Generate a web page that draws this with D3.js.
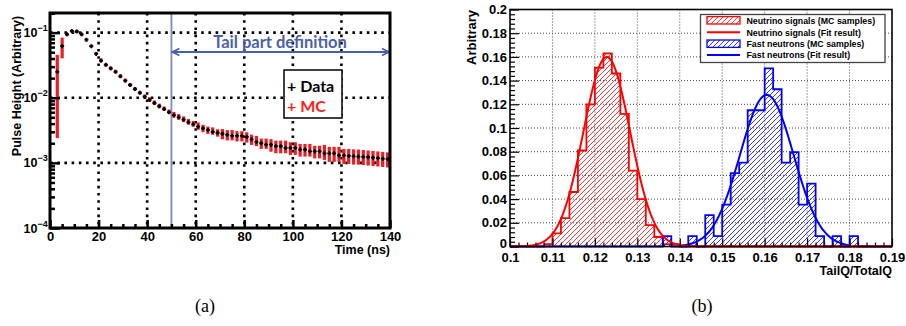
<!DOCTYPE html>
<html>
<head>
<meta charset="utf-8">
<script src="https://cdn.jsdelivr.net/npm/d3@7"></script>
<style>
  body { margin: 0; background: #fff; }
  svg { display: block; }
</style>
</head>
<body>
<svg id="fig" width="906" height="326"></svg>
<script>
// ---------- Panel (a): averaged pulse shape ----------
const pulseTimes = [3,5,7,9,11,13,15,17,19,21,23,25,27,29,31,33,35,37,39,41,43,45,47,49,51,53,55,57,59,61,63,65,67,69,71,73,75,77,79,81,83,85,87,89,91,93,95,97,99,101,103,105,107,109,111,113,115,117,119,121,123,125,127,129,131,133,135,137,139];
const pulseData = [0.025,0.062,0.094,0.106,0.104,0.094,0.078,0.062,0.047,0.037,0.032,0.0282,0.025,0.0213,0.0183,0.0157,0.0136,0.0119,0.0104,0.0093,0.0083,0.0074,0.0067,0.0060,0.0054,0.0050,0.0046,0.0042,0.0039,0.0036,0.0034,0.0032,0.0030,0.0029,0.0028,0.0027,0.0026,0.0026,0.0026,0.0025,0.0023,0.0021,0.0020,0.0019,0.0019,0.0018,0.0018,0.0017,0.0017,0.0017,0.0016,0.0016,0.0015,0.0015,0.0015,0.0014,0.0014,0.0014,0.0013,0.0013,0.00128,0.00126,0.00125,0.00124,0.00122,0.0012,0.00118,0.00116,0.00114];
const pulseMC = [0.024,0.062,0.093,0.105,0.104,0.093,0.077,0.062,0.048,0.038,0.032,0.0284,0.0252,0.0215,0.0185,0.0158,0.0137,0.0120,0.0105,0.0094,0.0084,0.0075,0.0068,0.0061,0.0055,0.0051,0.0047,0.0043,0.0040,0.0037,0.0034,0.0032,0.0031,0.0029,0.0028,0.0027,0.0027,0.0026,0.0026,0.0025,0.0023,0.0022,0.0020,0.0020,0.0019,0.0018,0.0018,0.0018,0.0017,0.0017,0.0016,0.0016,0.0016,0.0015,0.0015,0.0015,0.0014,0.0014,0.0014,0.0013,0.0013,0.00128,0.00127,0.00125,0.00123,0.00121,0.00119,0.00117,0.00115];
// relative half-width of the MC error bars
const pulseMCErr = [0.9,0.35,0.05,0.05,0.05,0.05,0.05,0.05,0.05,0.06,0.06,0.06,0.06,0.06,0.06,0.06,0.06,0.06,0.06,0.08,0.08,0.08,0.08,0.08,0.10,0.10,0.10,0.10,0.10,0.13,0.13,0.13,0.13,0.13,0.18,0.18,0.18,0.18,0.18,0.18,0.18,0.18,0.18,0.18,0.22,0.22,0.22,0.22,0.22,0.22,0.22,0.22,0.22,0.22,0.22,0.26,0.26,0.26,0.26,0.26,0.26,0.26,0.26,0.26,0.26,0.26,0.26,0.26,0.26];
const timeTicks = [0,20,40,60,80,100,120,140];
const timeLabels = ["0","20","40","60","80","100","120","140"];
const timeMinor = [5,10,15,25,30,35,45,50,55,65,70,75,85,90,95,105,110,115,125,130,135];
const decadeTicks = [1e-4,1e-3,1e-2,1e-1];
const decadeExp = ["−4","−3","−2","−1"];
const tailStart = 50;

// ---------- Panel (b): TailQ/TotalQ distributions ----------
const binWidth = 0.002;
const neutrinoBinLow = [0.108,0.110,0.112,0.114,0.116,0.118,0.120,0.122,0.124,0.126,0.128,0.130,0.132,0.134,0.136,0.138];
const neutrinoVals   = [0.002,0.011,0.024,0.046,0.081,0.120,0.151,0.163,0.146,0.112,0.064,0.040,0.018,0.008,0.002,0.002];
const fastBinLow = [0.136,0.142,0.146,0.148,0.150,0.152,0.154,0.156,0.158,0.160,0.162,0.164,0.166,0.168,0.170,0.172,0.176,0.180];
const fastVals   = [0.0088,0.0088,0.0265,0.0088,0.0354,0.0619,0.0708,0.115,0.115,0.1504,0.1327,0.0708,0.0796,0.0354,0.0531,0.0088,0.0088,0.0088];
// Gaussian fit results: [constant, mean, sigma]
const neutrinoFit = [0.160, 0.1228, 0.0055];
const fastFit = [0.128, 0.1605, 0.0063];
const neutrinoFitRange = [0.10, 0.19];
const fastFitRange = [0.14, 0.18];
const ratioTicks = [0.10,0.11,0.12,0.13,0.14,0.15,0.16,0.17,0.18,0.19];
const ratioLabels = ["0.1","0.11","0.12","0.13","0.14","0.15","0.16","0.17","0.18","0.19"];
const ratioMinor = [0.102,0.104,0.106,0.108,0.112,0.114,0.116,0.118,0.122,0.124,0.126,0.128,0.132,0.134,0.136,0.138,0.142,0.144,0.146,0.148,0.152,0.154,0.156,0.158,0.162,0.164,0.166,0.168,0.172,0.174,0.176,0.178,0.182,0.184,0.186,0.188];
const arbTicks = [0,0.02,0.04,0.06,0.08,0.10,0.12,0.14,0.16,0.18,0.20];
const arbLabels = ["0","0.02","0.04","0.06","0.08","0.1","0.12","0.14","0.16","0.18","0.2"];
const arbMinor = [0.004,0.008,0.012,0.016,0.024,0.028,0.032,0.036,0.044,0.048,0.052,0.056,0.064,0.068,0.072,0.076,0.084,0.088,0.092,0.096,0.104,0.108,0.112,0.116,0.124,0.128,0.132,0.136,0.144,0.148,0.152,0.156,0.164,0.168,0.172,0.176,0.184,0.188,0.192,0.196];
const legendEntries = ["Neutrino signals (MC samples)","Neutrino signals (Fit result)","Fast neutrons (MC samples)","Fast neutrons (Fit result)"];

const RED = "#ff0000", BLUE = "#0000ff";
const svg = d3.select("#fig");
const defs = svg.append("defs");
function hatch(id, color) {
  const p = defs.append("pattern").attr("id", id)
    .attr("patternUnits", "userSpaceOnUse").attr("width", 5).attr("height", 5);
  p.append("path").attr("d", "M-1,1 L1,-1 M0,5 L5,0 M4,6 L6,4")
    .attr("stroke", color).attr("stroke-width", 0.8).attr("fill", "none");
}
hatch("hatchRed", RED);
hatch("hatchBlue", BLUE);

const sans = "'Liberation Sans', Arial, Helvetica, sans-serif";

// ===================== Panel (a) =====================
const xA = d3.scaleLinear().domain([0, 140]).range([50, 390]);
const yA = d3.scaleLog().domain([1e-4, 0.2]).range([228, 13]);
const gA = svg.append("g");

// dotted grid
gA.append("g").selectAll("line").data(timeTicks.slice(1, -1)).join("line")
  .attr("x1", d => xA(d)).attr("x2", d => xA(d)).attr("y1", 13).attr("y2", 228)
  .attr("stroke", "#000").attr("stroke-width", 2.6).attr("stroke-dasharray", "2.6,4.6");
gA.append("g").selectAll("line").data(decadeTicks.slice(1)).join("line")
  .attr("x1", 50).attr("x2", 390).attr("y1", d => yA(d)).attr("y2", d => yA(d))
  .attr("stroke", "#000").attr("stroke-width", 2.6).attr("stroke-dasharray", "2.6,4.6");

// start of the tail window
gA.append("line").attr("x1", xA(tailStart)).attr("x2", xA(tailStart)).attr("y1", 13).attr("y2", 228)
  .attr("stroke", "#7d8cb8").attr("stroke-width", 1.8);

// arrow spanning the tail window
const arrowY = 52, arrowCol = "#4a5fac";
gA.append("line").attr("x1", xA(tailStart) + 1).attr("x2", xA(140) - 1).attr("y1", arrowY).attr("y2", arrowY)
  .attr("stroke", arrowCol).attr("stroke-width", 1.8);
gA.append("path").attr("d", `M${xA(tailStart) + 8},${arrowY - 3.5} L${xA(tailStart) + 1},${arrowY} L${xA(tailStart) + 8},${arrowY + 3.5}`)
  .attr("fill", "none").attr("stroke", arrowCol).attr("stroke-width", 1.8);
gA.append("path").attr("d", `M${xA(140) - 8},${arrowY - 3.5} L${xA(140) - 1},${arrowY} L${xA(140) - 8},${arrowY + 3.5}`)
  .attr("fill", "none").attr("stroke", arrowCol).attr("stroke-width", 1.8);
gA.append("text").attr("x", 280).attr("y", 47.5).attr("text-anchor", "middle")
  .attr("font-family", "Lato, 'Open Sans', sans-serif").attr("font-weight", 700).attr("font-size", 16.5)
  .attr("fill", arrowCol).text("Tail part definition");

// MC error bars
gA.append("g").selectAll("line").data(pulseTimes).join("line")
  .attr("x1", d => xA(d)).attr("x2", d => xA(d))
  .attr("y1", (d, i) => yA(Math.max(pulseMC[i] * (1 - pulseMCErr[i]), 1e-4)))
  .attr("y2", (d, i) => yA(pulseMC[i] * (1 + pulseMCErr[i])))
  .attr("stroke", "#f01c24").attr("stroke-width", 3.2);
// data markers
gA.append("g").selectAll("path").data(pulseTimes).join("path")
  .attr("d", (d, i) => {
    const x = xA(d), y = yA(pulseData[i]);
    return `M${x - 2},${y} H${x + 2} M${x},${y - 2} V${y + 2}`;
  })
  .attr("stroke", "#000").attr("stroke-width", 1.8);

// legend
const lgA = gA.append("g");
lgA.append("rect").attr("x", 284).attr("y", 70).attr("width", 58).attr("height", 48)
  .attr("fill", "#fff").attr("stroke", "#000").attr("stroke-width", 1.5);
lgA.append("text").attr("x", 287).attr("y", 91.5).attr("font-family", "Lato, sans-serif")
  .attr("font-weight", 700).attr("font-size", 16).attr("fill", "#000").text("+ Data");
lgA.append("text").attr("x", 287).attr("y", 111.5).attr("font-family", "Lato, sans-serif")
  .attr("font-weight", 700).attr("font-size", 16).attr("fill", "#ff1c1c").text("+ MC");

// axes
function styleAxis(g, w) {
  g.select(".domain").remove();
  g.selectAll(".tick line").attr("stroke", "#000").attr("stroke-width", w);
  g.selectAll("text").attr("font-family", sans).attr("font-weight", 700).attr("font-size", 13).attr("fill", "#000");
}
gA.append("g").attr("transform", "translate(0,228)")
  .call(d3.axisBottom(xA).tickValues(timeMinor).tickSize(-4).tickFormat(""))
  .call(g => styleAxis(g, 2.5));
gA.append("g").attr("transform", "translate(0,228)")
  .call(d3.axisBottom(xA).tickValues(timeTicks).tickSize(-8).tickPadding(4).tickFormat((d, i) => timeLabels[i]))
  .call(g => styleAxis(g, 2.5));
const decadeMinor = [];
decadeTicks.forEach(d => { for (let m = 2; m <= 9; m++) { const v = d * m; if (v <= 0.2) decadeMinor.push(v); } });
decadeMinor.push(0.2);
gA.append("g").attr("transform", "translate(50,0)")
  .call(d3.axisLeft(yA).tickValues(decadeMinor).tickSize(-5).tickFormat(""))
  .call(g => styleAxis(g, 2.5));
gA.append("g").attr("transform", "translate(50,0)")
  .call(d3.axisLeft(yA).tickValues(decadeTicks).tickSize(-10).tickFormat(""))
  .call(g => styleAxis(g, 2.5));
const dl = gA.append("g").selectAll("g").data(decadeTicks).join("g");
dl.append("text").attr("x", 37.5).attr("y", d => yA(d) + 4.5).attr("text-anchor", "end")
  .attr("font-family", sans).attr("font-weight", 700).attr("font-size", 12.5).text("10");
dl.append("text").attr("x", 37.5).attr("y", d => yA(d) - 1.5)
  .attr("font-family", sans).attr("font-weight", 700).attr("font-size", 9).text((d, i) => decadeExp[i]);

gA.append("rect").attr("x", 50).attr("y", 13).attr("width", 340).attr("height", 215)
  .attr("fill", "none").attr("stroke", "#000").attr("stroke-width", 3);

gA.append("text").attr("transform", "translate(21,86) rotate(-90)").attr("text-anchor", "middle")
  .attr("font-family", sans).attr("font-weight", 700).attr("font-size", 12.5).text("Pulse Height (Arbitrary)");
gA.append("text").attr("x", 390).attr("y", 254).attr("text-anchor", "end")
  .attr("font-family", sans).attr("font-weight", 700).attr("font-size", 12.5).text("Time (ns)");

// ===================== Panel (b) =====================
const xB = d3.scaleLinear().domain([0.1, 0.19]).range([510, 892]);
const yB = d3.scaleLinear().domain([0, 0.2]).range([246.5, 9.5]);
const gB = svg.append("g");

// dotted grid
gB.append("g").selectAll("line").data(ratioTicks.slice(1, -1)).join("line")
  .attr("x1", d => xB(d)).attr("x2", d => xB(d)).attr("y1", 9.5).attr("y2", 246.5)
  .attr("stroke", "#333").attr("stroke-width", 0.9).attr("stroke-dasharray", "1,2");
gB.append("g").selectAll("line").data(arbTicks.slice(1, -1)).join("line")
  .attr("x1", 510).attr("x2", 892).attr("y1", d => yB(d)).attr("y2", d => yB(d))
  .attr("stroke", "#333").attr("stroke-width", 0.9).attr("stroke-dasharray", "1,2");

// histogram step path over the full axis range
function histPath(lows, vals) {
  const nb = Math.round((0.19 - 0.1) / binWidth);
  const byBin = new Array(nb).fill(0);
  lows.forEach((lo, i) => { byBin[Math.round((lo - 0.1) / binWidth)] = vals[i]; });
  let d = `M${xB(0.1)},${yB(0)}`;
  byBin.forEach((v, k) => {
    const lo = 0.1 + k * binWidth, hi = lo + binWidth;
    d += ` L${xB(lo)},${yB(v)} L${xB(hi)},${yB(v)}`;
  });
  d += ` L${xB(0.19)},${yB(0)}`;
  return d;
}
function drawHist(lows, vals, color, pat) {
  const d = histPath(lows, vals);
  gB.append("path").attr("d", d + "Z").attr("fill", `url(#${pat})`).attr("stroke", "none");
  gB.append("path").attr("d", d).attr("fill", "none").attr("stroke", color).attr("stroke-width", 1.8);
}
drawHist(neutrinoBinLow, neutrinoVals, RED, "hatchRed");
drawHist(fastBinLow, fastVals, BLUE, "hatchBlue");

function drawFit(p, range, color) {
  const xs = d3.range(range[0], range[1] + 1e-9, 0.0004);
  const line = d3.line().x(x => xB(x)).y(x => yB(p[0] * Math.exp(-0.5 * ((x - p[1]) / p[2]) ** 2)));
  gB.append("path").attr("d", line(xs)).attr("fill", "none").attr("stroke", color).attr("stroke-width", 2);
}
drawFit(fastFit, fastFitRange, BLUE);
drawFit(neutrinoFit, neutrinoFitRange, RED);

// axes
gB.append("g").attr("transform", "translate(0,246.5)")
  .call(d3.axisBottom(xB).tickValues(ratioMinor).tickSize(-4).tickFormat(""))
  .call(g => styleAxis(g, 1.2));
gB.append("g").attr("transform", "translate(0,246.5)")
  .call(d3.axisBottom(xB).tickValues(ratioTicks).tickSize(-8).tickPadding(6).tickFormat((d, i) => ratioLabels[i]))
  .call(g => styleAxis(g, 1.2));
const yAxisB = gB.append("g").attr("transform", "translate(510,0)");
gB.append("g").attr("transform", "translate(510,0)")
  .call(d3.axisLeft(yB).tickValues(arbMinor).tickSize(-5).tickFormat(""))
  .call(g => styleAxis(g, 1.2));
yAxisB.call(d3.axisLeft(yB).tickValues(arbTicks).tickSize(-9).tickPadding(3).tickFormat((d, i) => arbLabels[i]))
  .call(g => styleAxis(g, 1.2));
// lift the zero label clear of the first x label
yAxisB.selectAll(".tick text").filter(d => d === 0).attr("dy", "0.1em");

gB.append("rect").attr("x", 510).attr("y", 9.5).attr("width", 382).attr("height", 237)
  .attr("fill", "none").attr("stroke", "#000").attr("stroke-width", 1.6);

gB.append("text").attr("transform", "translate(476,10) rotate(-90)").attr("text-anchor", "end")
  .attr("font-family", sans).attr("font-weight", 700).attr("font-size", 13).text("Arbitrary");
gB.append("text").attr("x", 892).attr("y", 275).attr("text-anchor", "end")
  .attr("font-family", sans).attr("font-weight", 700).attr("font-size", 12.5).text("TailQ/TotalQ");

// legend
const lgB = gB.append("g");
lgB.append("rect").attr("x", 700.5).attr("y", 14.5).attr("width", 184.5).attr("height", 48)
  .attr("fill", "#fff").attr("stroke", "#444").attr("stroke-width", 1.3);
const rowY = [20.3, 32.3, 43.7, 55];
[[RED, "hatchRed"], [RED, null], [BLUE, "hatchBlue"], [BLUE, null]].forEach(([c, pat], i) => {
  if (pat) {
    lgB.append("rect").attr("x", 707).attr("y", rowY[i] - 3.7).attr("width", 33).attr("height", 7.4)
      .attr("fill", `url(#${pat})`).attr("stroke", c).attr("stroke-width", 1.3);
  } else {
    lgB.append("line").attr("x1", 707).attr("x2", 740).attr("y1", rowY[i]).attr("y2", rowY[i])
      .attr("stroke", c).attr("stroke-width", 2);
  }
  lgB.append("text").attr("x", 746.5).attr("y", rowY[i] + 3.2)
    .attr("font-family", sans).attr("font-weight", 700).attr("font-size", 8.8).attr("fill", "#000")
    .text(legendEntries[i]);
});

// sub-figure captions
svg.append("text").attr("x", 205).attr("y", 312).attr("text-anchor", "middle")
  .attr("font-family", "'Liberation Serif', 'DejaVu Serif', serif").attr("font-size", 18).text("(a)");
svg.append("text").attr("x", 702).attr("y", 312).attr("text-anchor", "middle")
  .attr("font-family", "'Liberation Serif', 'DejaVu Serif', serif").attr("font-size", 18).text("(b)");
</script>
</body>
</html>
